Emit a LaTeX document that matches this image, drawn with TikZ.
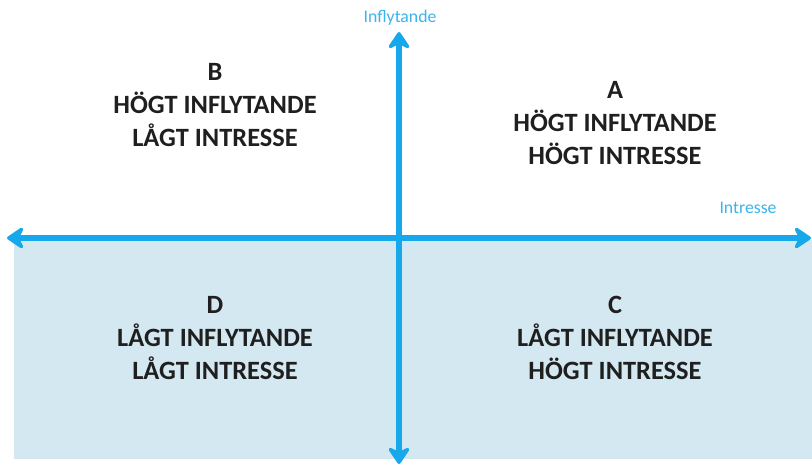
\documentclass[tikz,border=0pt]{standalone}
\usepackage{fontspec}
\setmainfont{Carlito}
\usetikzlibrary{arrows.meta}
\definecolor{axisblue}{HTML}{16A8EA}
\definecolor{quadfill}{HTML}{D3E8F1}
\definecolor{labelblue}{HTML}{3BB4EC}
\tikzset{
  axisline/.style={draw=axisblue, line width=3.8pt,
    arrows={Stealth[length=15pt,width=20pt,inset=5pt,round]-Stealth[length=15pt,width=20pt,inset=5pt,round]}},
  quadtext/.style={align=center, font=\fontsize{19.8}{24.75}\selectfont\bfseries, text=black!88},
  axislabel/.style={font=\fontsize{13.3}{15}\selectfont, text=labelblue, inner sep=0pt}
}
\begin{document}
\begin{tikzpicture}[x=0.75pt,y=-0.75pt]
\useasboundingbox (0,0) rectangle (812,465);
\fill[quadfill] (14,240) rectangle (812,459);
\coordinate (left) at (7,238);
\coordinate (right) at (811,238);
\coordinate (top) at (399,32);
\coordinate (bottom) at (399,464);
\draw[axisline] (left) -- (right);
\draw[axisline] (bottom) -- (top);
\node[axislabel] (ylab) at (400,18) {Inflytande};
\node[axislabel] (xlab) at (748,208) {Intresse};
\node[quadtext] (B) at (215,105) {B\\HÖGT INFLYTANDE\\LÅGT INTRESSE};
\node[quadtext] (A) at (615,123) {A\\HÖGT INFLYTANDE\\HÖGT INTRESSE};
\node[quadtext] (D) at (215,338) {D\\LÅGT INFLYTANDE\\LÅGT INTRESSE};
\node[quadtext] (C) at (615,338) {C\\LÅGT INFLYTANDE\\HÖGT INTRESSE};
\end{tikzpicture}
\end{document}
